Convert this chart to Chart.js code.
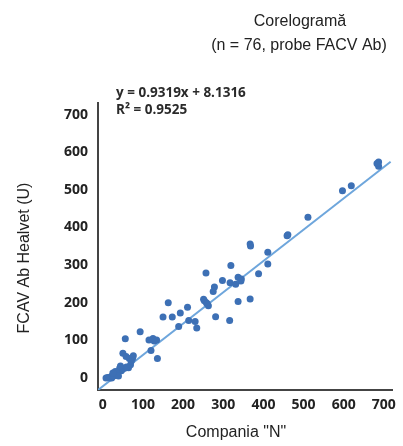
<!DOCTYPE html>
<html>
<head>
<meta charset="utf-8">
<script src="https://cdn.jsdelivr.net/npm/chart.js@4.4.1/dist/chart.umd.min.js"></script>
<style>
    html, body { margin: 0; padding: 0; background: #fff; }
    #wrap { width: 403px; height: 446px; }
</style>
</head>
<body>
<div id="wrap"><canvas id="grafico" width="403" height="446"></canvas></div>
<script>
// Valori: Compania "N" (x) si FCAV Ab Healvet (y), 76 probe
const companiaN = [687, 687, 683, 619, 597, 511, 461, 367, 411, 411,
    319, 388, 257, 298, 317, 337, 345, 331, 278, 275,
    251, 258, 263, 337, 367, 163, 211, 193, 150, 173,
    281, 316, 214, 230, 189, 234, 93, 115, 125, 134,
    120, 136, 56, 50, 58, 66, 74, 64, 42, 31,
    25, 20, 36, 46, 54, 12, 17, 22, 27, 32,
    37, 8, 49, 59, 39, 69, 128, 253, 344, 71,
    44, 25, 368, 459, 260, 76]
const healvet = [574, 563, 570, 511, 498, 427, 381, 356, 334, 303,
    299, 277, 279, 259, 253, 268, 263, 249, 242, 230,
    209, 200, 192, 203, 210, 200, 188, 173, 162, 162,
    163, 153, 153, 150, 137, 133, 123, 101, 105, 101,
    73, 52, 104, 66, 57, 52, 52, 27, 26, 17,
    8, 3, 10, 19, 26, 1, 0, 0, 5, 11,
    15, 0, 23, 29, 5, 35, 98, 205, 258, 45,
    32, 13, 351, 378, 197, 59]

// linia de tendinta, capetele
const trendX = [-12, 717]
const trendY = [-32, 575]

// etichete pe axe
const ticksX = [0, 100, 200, 300, 400, 500, 600, 700]
const ticksY = [0, 100, 200, 300, 400, 500, 600, 700]

const titlu = ["Corelogramă", "(n = 76, probe FACV Ab)"]
const ecuatie = ["y = 0.9319x + 8.1316", "R² = 0.9525"]
const titluX = 'Compania "N"'
const titluY = "FCAV Ab Healvet (U)"

const puncte = companiaN.map((x, i) => ({ x: x, y: healvet[i] }))
const linie = trendX.map((x, i) => ({ x: x, y: trendY[i] }))

// textele din jurul graficului
const texte = {
    id: "texte",
    afterDraw(chart) {
        const c = chart.ctx
        c.save()
        c.fillStyle = "#222"
        c.textAlign = "center"
        c.textBaseline = "alphabetic"
        c.font = '16px "Liberation Sans", Arial, sans-serif'
        c.fillText(titlu[0], 300, 26)
        c.fillText(titlu[1], 299, 50)
        c.fillText(titluX, 236, 437)

        c.save()
        c.translate(25, 258)
        c.rotate(-Math.PI / 2)
        c.textBaseline = "middle"
        c.fillText(titluY, 0, 0)
        c.restore()

        c.textAlign = "left"
        c.fillStyle = "#2a2a2a"
        c.font = 'bold 13.5px "Open Sans", sans-serif'
        c.fillText(ecuatie[0], 116, 97)
        c.fillText(ecuatie[1], 116, 114)
        c.restore()
    }
}

const fontTick = { family: '"Open Sans", sans-serif', size: 14, weight: "bold" }

new Chart(document.getElementById("grafico").getContext("2d"), {
    type: "scatter",
    data: {
        datasets: [{
            label: "probe",
            data: puncte,
            backgroundColor: "#3d70b5",
            borderWidth: 0,
            pointRadius: 3.5,
            order: 1
        }, {
            type: "line",
            label: "tendinta",
            data: linie,
            borderColor: "#6ea6dc",
            borderWidth: 2,
            pointRadius: 0,
            fill: false,
            order: 2
        }]
    },
    options: {
        responsive: false,
        animation: false,
        devicePixelRatio: 1,
        layout: { padding: { top: 103, right: 6, left: 0, bottom: 0 } },
        plugins: {
            legend: { display: false },
            tooltip: { enabled: false }
        },
        scales: {
            x: {
                type: "linear",
                min: -12,
                max: 722,
                afterBuildTicks: s => { s.ticks = ticksX.map(v => ({ value: v })) },
                afterFit: s => { s.height = 56 },
                grid: { display: false, drawTicks: false },
                border: { display: true, color: "#444", width: 2 },
                ticks: { font: fontTick, color: "#222", padding: 7, maxRotation: 0 }
            },
            y: {
                type: "linear",
                min: -32,
                max: 731,
                afterBuildTicks: s => { s.ticks = ticksY.map(v => ({ value: v })) },
                afterFit: s => { s.width = 98 },
                grid: { display: false, drawTicks: false },
                border: { display: true, color: "#444", width: 2 },
                ticks: { font: fontTick, color: "#222", padding: 10 }
            }
        }
    },
    plugins: [texte]
})
</script>
</body>
</html>
